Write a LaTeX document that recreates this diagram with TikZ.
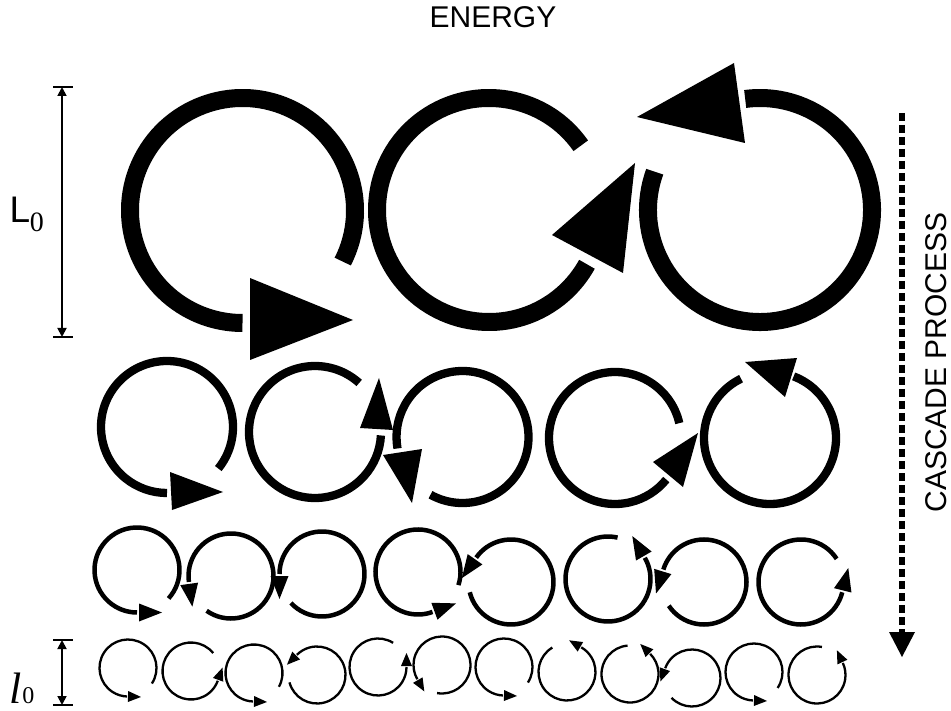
\documentclass[tikz,border=0pt]{standalone}
\usepackage{fontspec}
\setmainfont{Liberation Sans}
\newfontfamily\serifface{Liberation Serif}
\usetikzlibrary{arrows.meta}

% open ring: centre, radius, start and end angle (y axis points down)
\newcommand\ringarc[5]{%
  \draw (#1,#2) ++(#4:#3) arc[start angle=#4, end angle=#5, radius=#3];}
% open ring with a detached triangular head at its end:
% centre x, centre y, radius, start, end, head length, head base, gap
\newcommand\eddy[8]{%
  \pgfmathsetmacro\eddydir{ifthenelse(#5>#4,1,-1)}%
  \ringarc{#1}{#2}{#3}{#4}{#5}%
  \begin{scope}[shift={(#1,#2)}, rotate={-(#5)}]
    \fill ({#3-#7/2},{\eddydir*#8}) -- ({#3+#7/2},{\eddydir*#8})
          -- (#3,{\eddydir*(#8+#6)}) -- cycle;
  \end{scope}}

\begin{document}
\begin{tikzpicture}[x=1pt,y=-1pt,
  label text/.style={inner sep=0pt, font=\fontsize{30}{30}\selectfont},
  dimbar/.style={line width=1.8pt, {Triangle[length=9pt,width=9pt]}-{Triangle[length=9pt,width=9pt]}},
  tick/.style={line width=1.8pt}]
\useasboundingbox (0,0) rectangle (951,711);

% ---- labels ----
\node[label text] (energy) at (493,17.5) {ENERGY};
\node[label text, rotate=90] (cascade) at (936,362.5) {CASCADE PROCESS};
\node[inner sep=0pt, anchor=base west] (Lzero) at (9.5,223)
  {\fontsize{37}{37}\selectfont L\kern-0.5pt\raisebox{-9pt}{\serifface\fontsize{28}{28}\selectfont 0}};
\node[inner sep=0pt, anchor=base west] (lzero) at (9,703)
  {\serifface\fontsize{44}{44}\selectfont\itshape l\kern1pt\upshape\fontsize{24}{24}\selectfont 0};

% ---- scale bars ----
\coordinate (Ltop) at (62,87);   \coordinate (Lbot) at (62,337);
\coordinate (ltop) at (62,640);  \coordinate (lbot) at (62,705);
\draw[dimbar] (Ltop) -- (Lbot);
\draw[tick] ([xshift=-9pt]Ltop) -- ([xshift=11pt]Ltop);
\draw[tick] ([xshift=-9pt]Lbot) -- ([xshift=11pt]Lbot);
\draw[dimbar] (ltop) -- (lbot);
\draw[tick] ([xshift=-9pt]ltop) -- ([xshift=11pt]ltop);
\draw[tick] ([xshift=-9pt]lbot) -- ([xshift=11pt]lbot);

% ---- cascade arrow ----
\coordinate (casctop) at (902,113);
\coordinate (cascend) at (902,632);
\coordinate (casctip) at (902,657);
\draw[line width=5.5pt, dash pattern=on 8pt off 4pt] (casctop) -- (cascend);
\fill ([xshift=-13pt]cascend) -- ([xshift=13pt]cascend) -- (casctip) -- cycle;

% ---- largest eddies ----
\begin{scope}[line width=18pt]
  \ringarc{242.5}{210.5}{112.5}{27}{-270}
  \fill (250,278) -- (250,360) -- (353,320) -- cycle;
  \ringarc{489}{210}{112}{-35}{-331}
  \fill (552,235) -- (635,163) -- (623,273) -- cycle;
  \ringarc{760}{210}{112}{-160}{-457.6}
  \fill (637,117) -- (734,63) -- (745,143) -- cycle;
\end{scope}

% ---- second generation ----
\begin{scope}[line width=8.3pt]
  \ringarc{167}{427}{66}{39}{-270}
  \fill (170,472) -- (172,510) -- (223,492) -- cycle;
  \ringarc{315}{432}{66}{-48}{-357}
  \fill (360,428) -- (393,430) -- (379,378) -- cycle;
  \ringarc{462.5}{437}{66}{-241}{-550}
  \fill (383,455) -- (422,449) -- (412,503) -- cycle;
  \ringarc{615}{438}{66}{-13}{-321}
  \fill (653,462) -- (683,487) -- (698,433) -- cycle;
  \ringarc{770}{438}{66}{-69}{244}
  \fill (745,362) -- (797,358) -- (785,397) -- cycle;
\end{scope}

% ---- third generation ----
\begin{scope}[line width=4.5pt]
  \eddy{137}{570}{42.5}{42}{-270}{23}{18}{2}
  \eddy{231}{576}{42.5}{125}{-188}{23}{18}{2}
  \eddy{322}{574}{42.5}{137}{-180}{23}{18}{2}
  \eddy{418}{572}{42.5}{18}{-290}{23}{18}{2}
  \eddy{511}{582}{42.5}{166}{-145}{23}{18}{2}
  \eddy{608}{579}{42.5}{-77}{-390}{23}{18}{2}
  \eddy{704}{582}{42.5}{146}{-163}{23}{18}{2}
  \eddy{801}{582}{42.5}{-33}{-346}{23}{18}{2}
\end{scope}

% ---- smallest eddies ----
\begin{scope}[line width=2.3pt]
  \eddy{128}{668}{28.5}{33}{-268}{13}{11}{1}
  \eddy{191}{671}{28.5}{-39}{-340}{13}{11}{1}
  \eddy{254}{673}{28.5}{29}{-268}{13}{11}{1}
  \eddy{317}{675}{28.5}{165}{-135}{13}{11}{1}
  \eddy{378}{667}{28.5}{-58}{-360}{13}{11}{1}
  \eddy{442}{665}{28.5}{100}{-210}{13}{11}{1}
  \eddy{504}{667}{28.5}{33}{-268}{13}{11}{1}
  \eddy{567}{672}{28.5}{-121}{-420}{13}{11}{1}
  \eddy{630}{674}{28.5}{-95}{-405}{13}{11}{1}
  \eddy{692}{678}{28.5}{136}{-160}{13}{11}{1}
  \eddy{754}{672}{28.5}{34}{-268}{13}{11}{1}
  \eddy{817}{675}{28.5}{-80}{-385}{13}{11}{1}
\end{scope}
\end{tikzpicture}
\end{document}
